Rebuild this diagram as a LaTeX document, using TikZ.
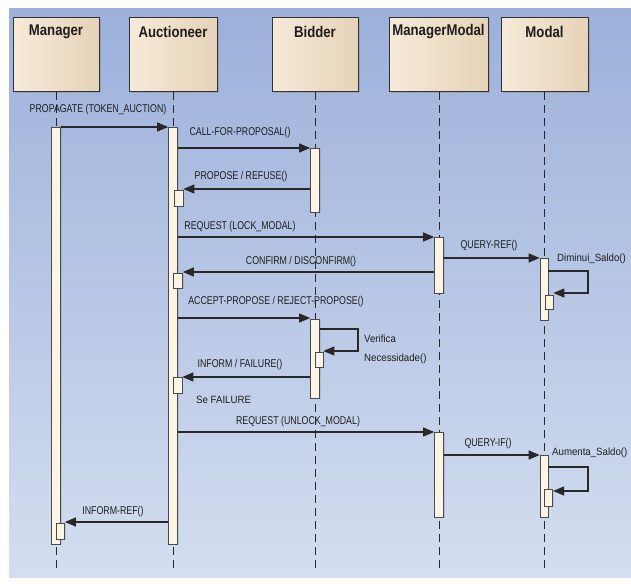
\documentclass[tikz,border=0pt]{standalone}
\usepackage{fontspec}
\setmainfont{Liberation Sans}
\newfontfamily\msgfont[FakeStretch=0.78]{Liberation Sans}
\newfontfamily\notefont[FakeStretch=0.92]{Liberation Sans}
\newfontfamily\hdrfont[FakeStretch=0.85]{Liberation Sans}
\usetikzlibrary{arrows.meta,shadows}
\definecolor{bgtop}{RGB}{156,176,218}
\definecolor{bgbot}{RGB}{212,222,240}
\definecolor{boxL}{RGB}{246,234,216}
\definecolor{boxM}{RGB}{251,242,230}
\definecolor{boxR}{RGB}{230,211,184}
\definecolor{boxline}{RGB}{50,50,50}
\definecolor{barfill}{RGB}{252,244,228}
\definecolor{barline}{RGB}{75,75,75}
\definecolor{lnc}{RGB}{40,40,40}
\definecolor{txt}{RGB}{30,30,30}
\begin{document}
\begin{tikzpicture}[x=1pt,y=-1pt,
  hdrbox/.style={draw=boxline, line width=0.9pt, left color=boxL, middle color=boxM, right color=boxR,
    minimum height=74pt, inner sep=0pt, anchor=north,
    drop shadow={shadow xshift=1.5pt,shadow yshift=-1.5pt,opacity=0.35}},
  hdrtxt/.style={text=txt, font=\hdrfont\bfseries\fontsize{15.5}{17}\selectfont, inner sep=0pt},
  actbar/.style={draw=barline, line width=0.7pt, fill=barfill, minimum width=9pt, inner sep=0pt, anchor=north,
    drop shadow={shadow xshift=1pt,shadow yshift=-1pt,opacity=0.25}},
  lifeline/.style={draw=lnc, line width=0.8pt, dash pattern=on 8pt off 5pt},
  msg/.style={draw=lnc, line width=1.2pt, -{Triangle[length=11pt,width=9pt]}},
  msglbl/.style={text=txt, font=\msgfont\fontsize{11.3}{13}\selectfont, inner sep=0pt},
  notelbl/.style={text=txt, font=\notefont\fontsize{10.5}{12}\selectfont, inner sep=0pt, anchor=west, align=left}
]
\useasboundingbox (0,0) rectangle (631,583);
\fill[white] (0,0) rectangle (631,583);
\shade[top color=bgtop, bottom color=bgbot] (9,9) rectangle (631,577);

% headers
\node[hdrbox, minimum width=86pt] (hMgr) at (56,17) {};
\node[hdrbox, minimum width=88pt] (hAuc) at (173,17) {};
\node[hdrbox, minimum width=86pt] (hBid) at (315,17) {};
\node[hdrbox, minimum width=99pt] (hMM) at (438.5,17) {};
\node[hdrbox, minimum width=87pt] (hMod) at (544.5,17) {};
\node[hdrtxt] (tMgr) at (56,32) {Manager};
\node[hdrtxt] (tAuc) at (173,32) {Auctioneer};
\node[hdrtxt] (tBid) at (315,32) {Bidder};
\node[hdrtxt] (tMM) at (438.5,32) {ManagerModal};
\node[hdrtxt] (tMod) at (544.5,32) {Modal};

% lifeline ends
\coordinate (eMgr) at (56,570);
\coordinate (eAuc) at (173,570);
\coordinate (eBid) at (315,570);
\coordinate (eMM) at (439,570);
\coordinate (eMod) at (544,570);
\draw[lifeline] (hMgr.south) -- (eMgr);
\draw[lifeline] (hAuc.south) -- (eAuc);
\draw[lifeline] (hBid.south) -- (eBid);
\draw[lifeline] (hMM.south -| eMM) -- (eMM);
\draw[lifeline] (hMod.south -| eMod) -- (eMod);

% activation bars
\node[actbar, minimum height=417pt] (mgrA) at (56,127) {};
\node[actbar, minimum height=16pt, minimum width=8pt] (mgrS) at (60.5,523) {};
\node[actbar, minimum height=417pt] (aucA) at (173,127) {};
\node[actbar, minimum height=16pt] (aucS1) at (178.5,190) {};
\node[actbar, minimum height=15pt] (aucS2) at (178,273) {};
\node[actbar, minimum height=16pt] (aucS3) at (177.5,377) {};
\node[actbar, minimum height=64pt] (bidA1) at (315,148) {};
\node[actbar, minimum height=79pt] (bidA2) at (315,319) {};
\node[actbar, minimum height=15pt, minimum width=8pt] (bidS) at (319,352) {};
\node[actbar, minimum height=56pt] (mmA1) at (439,237) {};
\node[actbar, minimum height=85pt] (mmA2) at (439,432) {};
\node[actbar, minimum height=62pt, minimum width=8pt] (modA1) at (544,258) {};
\node[actbar, minimum height=14pt, minimum width=8pt] (modS1) at (549,295) {};
\node[actbar, minimum height=62pt, minimum width=8pt] (modA2) at (544,455) {};
\node[actbar, minimum height=17pt, minimum width=8.5pt] (modS2) at (548.5,489) {};

% messages
\draw[msg] (mgrA.east |- 0,127) -- (aucA.west |- 0,127);
\node[msglbl] (l1) at (98,110) {PROPAGATE (TOKEN\_AUCTION)};
\draw[msg] (aucA.east |- 0,148) -- (bidA1.west |- 0,148);
\node[msglbl] (l2) at (240,133) {CALL-FOR-PROPOSAL()};
\draw[msg] (bidA1.west |- 0,189) -- (aucS1.east |- 0,189);
\node[msglbl] (l3) at (241,177) {PROPOSE / REFUSE()};
\draw[msg] (aucA.east |- 0,237) -- (mmA1.west |- 0,237);
\node[msglbl] (l4) at (240,227) {REQUEST (LOCK\_MODAL)};
\draw[msg] (mmA1.east |- 0,258) -- (modA1.west |- 0,258);
\node[msglbl] (l5) at (489,246) {QUERY-REF()};
\coordinate (c6a) at (588,271);
\coordinate (c6b) at (588,293);
\draw[msg] (modA1.east |- c6a) -- (c6a) -- (c6b) -- (modS1.east |- c6b);
\node[notelbl] (l6) at (557,259) {Diminui\_Saldo()};
\draw[msg] (mmA1.west |- 0,272) -- (aucS2.east |- 0,272);
\node[msglbl] (l7) at (301,262) {CONFIRM / DISCONFIRM()};
\draw[msg] (aucA.east |- 0,318) -- (bidA2.west |- 0,318);
\node[msglbl] (l8) at (276,302) {ACCEPT-PROPOSE / REJECT-PROPOSE()};
\coordinate (c9a) at (358,329);
\coordinate (c9b) at (358,351);
\draw[msg] (bidA2.east |- c9a) -- (c9a) -- (c9b) -- (bidS.east |- c9b);
\node[notelbl] (l9) at (364,349) {Verifica\\[7pt]Necessidade()};
\draw[msg] (bidA2.west |- 0,377) -- (aucS3.east |- 0,377);
\node[msglbl] (l10) at (240,365) {INFORM / FAILURE()};
\node[notelbl] (l11) at (196,400) {Se FAILURE};
\draw[msg] (aucA.east |- 0,432) -- (mmA2.west |- 0,432);
\node[msglbl] (l12) at (298,422) {REQUEST (UNLOCK\_MODAL)};
\draw[msg] (mmA2.east |- 0,455) -- (modA2.west |- 0,455);
\node[msglbl] (l13) at (488,444) {QUERY-IF()};
\coordinate (c14a) at (588,467);
\coordinate (c14b) at (588,491);
\draw[msg] (modA2.east |- c14a) -- (c14a) -- (c14b) -- (modS2.east |- c14b);
\node[notelbl] (l14) at (552,453) {Aumenta\_Saldo()};
\draw[msg] (aucA.west |- 0,522) -- (mgrS.east |- 0,522);
\node[msglbl] (l15) at (113,512) {INFORM-REF()};
\end{tikzpicture}
\end{document}
